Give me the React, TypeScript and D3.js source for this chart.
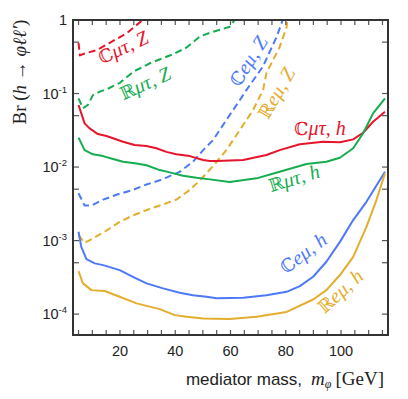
import React from 'react';
import * as d3 from 'd3';

// mediator mass [GeV], branching ratio
const cMuTauZ: [number, number][] = [
  [5, 0.49], [5.5, 0.33], [7.2, 0.35], [11.6, 0.39], [16.3, 0.49], [22.4, 0.66], [28.2, 1.0],
];
const rMuTauZ: [number, number][] = [
  [5, 0.086], [6.6, 0.063], [8.4, 0.07], [10.2, 0.095], [12.7, 0.106], [16, 0.118], [20, 0.14],
  [25, 0.2], [31, 0.26], [39, 0.34], [44, 0.42], [49, 0.6], [53, 0.68], [57, 0.75], [59.7, 0.81], [61.5, 1.0],
];
const cEMuZ: [number, number][] = [
  [5, 0.0044], [7.2, 0.003], [9.7, 0.003], [13.9, 0.0036], [18.7, 0.0042], [24.7, 0.0049], [29.6, 0.0058],
  [34.4, 0.0066], [36.8, 0.0072], [41.6, 0.0086], [46.4, 0.0118], [50.1, 0.017], [53.7, 0.0233],
  [58.5, 0.0436], [63.4, 0.0816], [65.8, 0.112], [71.7, 0.232], [76.7, 0.59], [78.9, 1.0],
];
const rEMuZ: [number, number][] = [
  [5, 0.00119], [7.2, 0.00093], [10.2, 0.00107], [15.1, 0.00137], [19.9, 0.0018], [24.7, 0.0022],
  [30.8, 0.0027], [35.6, 0.0031], [40.4, 0.0036], [45.3, 0.0049], [48.9, 0.0066], [53.7, 0.0103],
  [58.5, 0.017], [63.4, 0.032], [68.2, 0.06], [71.8, 0.112], [73, 0.19], [77.8, 0.43], [80.3, 0.8], [80.6, 1.0],
];
const cMuTauH: [number, number][] = [
  [5, 0.0698], [7.2, 0.0393], [9, 0.0336], [12, 0.0281], [15.1, 0.0264], [17.5, 0.0246], [21.1, 0.0221],
  [25.3, 0.0199], [29.6, 0.0193], [33.2, 0.018], [36.8, 0.0161], [40.4, 0.0149], [45.3, 0.0141],
  [50.1, 0.0125], [52.5, 0.0121], [54.9, 0.0121], [64.6, 0.0125], [73, 0.0146], [77.8, 0.017],
  [85.1, 0.0204], [93.5, 0.0221], [99.6, 0.0217], [104.4, 0.0238], [108, 0.0293], [111.6, 0.0413], [115.9, 0.0565],
];
const rMuTauH: [number, number][] = [
  [5, 0.0251], [7.2, 0.017], [10.2, 0.0149], [13.9, 0.0141], [17.5, 0.0129], [21.1, 0.0118], [26, 0.0112],
  [29.6, 0.0106], [34.4, 0.0091], [38, 0.00847], [42.8, 0.00762], [47.7, 0.00715], [52.5, 0.0068],
  [59.7, 0.00625], [69.4, 0.00702], [77.8, 0.00863], [87.5, 0.011], [94.7, 0.0118], [99.6, 0.0134],
  [104.4, 0.018], [108, 0.0288], [111.6, 0.0538], [115.9, 0.0861],
];
const cEMuH: [number, number][] = [
  [5, 0.00132], [6, 0.00082], [7.85, 0.00056], [10.9, 0.00049], [13.9, 0.000464], [19.9, 0.000397],
  [24.7, 0.000322], [29.6, 0.000262], [35.6, 0.000224], [41.6, 0.000195], [46.4, 0.000181],
  [51.3, 0.000172], [55, 0.000164], [64.6, 0.000167], [73, 0.000181], [80.3, 0.000201], [85.1, 0.00024],
  [89.9, 0.000322], [94.7, 0.000515], [99.6, 0.00096], [104.4, 0.0019], [109.2, 0.00337], [115.9, 0.00863],
];
const rEMuH: [number, number][] = [
  [5, 0.000385], [6.6, 0.000262], [9.7, 0.000212], [14.5, 0.000206], [19.9, 0.000172], [26, 0.00014],
  [34.4, 0.000117], [39.8, 0.0000969], [44.1, 0.0000918], [50.1, 0.0000873], [59.7, 0.0000855],
  [69.4, 0.0000918], [80.3, 0.000107], [89.9, 0.000158], [94.7, 0.000212], [99.6, 0.00034],
  [104.4, 0.0006], [109.2, 0.00154], [112.8, 0.00356], [115.9, 0.0082],
];

const xTickLabels = [20, 40, 60, 80, 100];
const xMinorTicks = d3.range(5, 116, 5);
const yMajorExps = [0, -1, -2, -3, -4];
const yMinorTicks = [0.5, 0.05, 0.005, 0.0005];

const RED = '#e8142b';
const GREEN = '#15ad50';
const BLUE = '#4d79f6';
const GOLD = '#e4ad2d';

const series = [
  { data: cMuTauZ, color: RED, dashed: true },
  { data: rMuTauZ, color: GREEN, dashed: true },
  { data: cEMuZ, color: BLUE, dashed: true },
  { data: rEMuZ, color: GOLD, dashed: true },
  { data: cMuTauH, color: RED, dashed: false },
  { data: rMuTauH, color: GREEN, dashed: false },
  { data: cEMuH, color: BLUE, dashed: false },
  { data: rEMuH, color: GOLD, dashed: false },
];

// curve labels: blackboard letter, rest of the label, position, angle
const labels = [
  { bb: 'ℂ', rest: 'μτ, Z', x: 123, y: 47, rot: -25, color: RED },
  { bb: 'ℝ', rest: 'μτ, Z', x: 145, y: 83, rot: -24, color: GREEN },
  { bb: 'ℂ', rest: 'eμ, Z', x: 248, y: 61, rot: -58, color: BLUE },
  { bb: 'ℝ', rest: 'eμ, Z', x: 276, y: 93, rot: -60, color: GOLD },
  { bb: 'ℂ', rest: 'μτ, h', x: 320, y: 128, rot: 0, color: RED },
  { bb: 'ℝ', rest: 'μτ, h', x: 294, y: 178, rot: -17, color: GREEN },
  { bb: 'ℂ', rest: 'eμ, h', x: 303, y: 253, rot: -37, color: BLUE },
  { bb: 'ℝ', rest: 'eμ, h', x: 340, y: 291, rot: -42, color: GOLD },
];

const SANS = '"Liberation Sans", Arial, Helvetica, sans-serif';
const SERIF = '"Liberation Serif", "DejaVu Serif", serif';

export default function App() {
  const left = 73, right = 388, top = 20, bottom = 335;
  const x = d3.scaleLinear().domain([3, 117]).range([left, right]);
  const y = d3.scaleLog().domain([5.2e-5, 1]).range([bottom, top]);

  const line = d3.line<[number, number]>()
    .x(d => x(d[0]))
    .y(d => y(d[1]));

  const tick = 5;

  return (
    <svg width={408} height={399} style={{ position: 'absolute', left: 0, top: 0, background: '#fff' }}>
      <defs>
        <clipPath id="plot">
          <rect x={left} y={top} width={right - left} height={bottom - top} />
        </clipPath>
      </defs>

      <g clipPath="url(#plot)" fill="none" strokeLinejoin="round">
        {series.map((s, i) => (
          <path key={i} d={line(s.data) || ''} stroke={s.color} strokeWidth={2}
            strokeDasharray={s.dashed ? '7,4' : undefined} />
        ))}
      </g>

      {/* ticks */}
      <g stroke="#555" strokeWidth={1.2}>
        {xMinorTicks.map(v => (
          <g key={'x' + v}>
            <line x1={x(v)} x2={x(v)} y1={bottom} y2={bottom - tick} />
            <line x1={x(v)} x2={x(v)} y1={top} y2={top + tick} />
          </g>
        ))}
        {[...yMajorExps.map(e => Math.pow(10, e)), ...yMinorTicks].map(v => (
          <g key={'y' + v}>
            <line x1={left} x2={left + tick + 1} y1={y(v)} y2={y(v)} />
            <line x1={right} x2={right - tick - 1} y1={y(v)} y2={y(v)} />
          </g>
        ))}
      </g>

      <rect x={left} y={top} width={right - left} height={bottom - top} fill="none" stroke="#333" strokeWidth={2} />

      {/* tick labels */}
      <g fontFamily={SANS} fontSize={14.5} fill="#222">
        {xTickLabels.map(v => (
          <text key={v} x={x(v)} y={356} textAnchor="middle">{v}</text>
        ))}
        {yMajorExps.map(e => (
          <text key={e} x={67} y={y(Math.pow(10, e)) + 5} textAnchor="end">
            {e === 0 ? '1' : (
              <>
                <tspan>10</tspan>
                <tspan fontSize={9.5} dy={-6}>{'-' + Math.abs(e)}</tspan>
              </>
            )}
          </text>
        ))}
      </g>

      {/* axis titles */}
      <text transform="translate(26,72) rotate(-90)" textAnchor="middle" fontFamily={SERIF} fontSize={19} fill="#222">
        <tspan>Br (</tspan><tspan fontStyle="italic">h</tspan><tspan> → </tspan>
        <tspan fontStyle="italic">φℓℓ′</tspan><tspan>)</tspan>
      </text>
      <text x={384} y={385} textAnchor="end" fill="#222">
        <tspan fontFamily={SANS} fontSize={17}>mediator mass,</tspan>
        <tspan fontFamily={SERIF} fontSize={19} fontStyle="italic" dx={9}>m</tspan>
        <tspan fontFamily={SERIF} fontSize={12} fontStyle="italic" dy={3}>φ</tspan>
        <tspan fontFamily={SERIF} fontSize={19} dy={-3} dx={4}>[GeV]</tspan>
      </text>

      {/* curve labels */}
      {labels.map((l, i) => (
        <text key={i} transform={`translate(${l.x},${l.y}) rotate(${l.rot})`} textAnchor="middle"
          dy="0.35em" fontFamily={SERIF} fontSize={20} fill={l.color}>
          <tspan fontFamily='"DejaVu Serif", serif' fontSize={18}>{l.bb}</tspan>
          <tspan fontStyle="italic">{l.rest}</tspan>
        </text>
      ))}
    </svg>
  );
}
